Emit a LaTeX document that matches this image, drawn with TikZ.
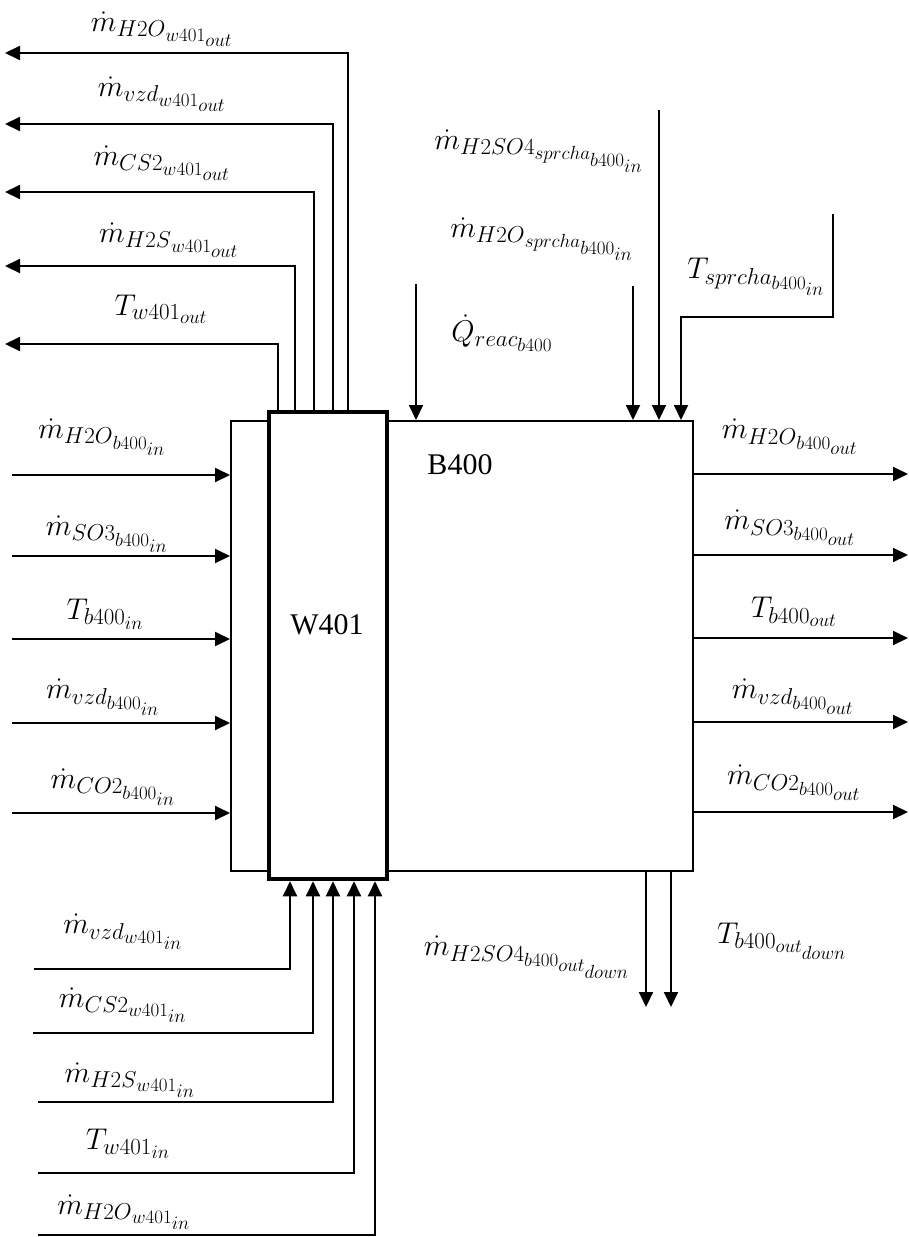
\RequirePackage{fix-cm}
\documentclass[tikz,border=0pt]{standalone}
\usepackage{fontspec}
\setmainfont{Liberation Serif}
\usepackage{tikz}
\usetikzlibrary{arrows.meta, positioning, calc}
\DeclareMathSizes{30}{30}{23}{19}
\tikzset{
  unit/.style={rectangle, draw, line width=2pt, inner sep=0pt},
  exch/.style={rectangle, draw, line width=4.5pt, fill=white, inner sep=0pt},
  tag/.style={inner sep=0pt, font=\fontsize{30}{36}\selectfont},
  var/.style={inner sep=1pt, font=\fontsize{30}{36}\selectfont},
  arr/.style={-{Triangle[length=15pt, width=14pt]}, line width=2pt},
}

\begin{document}
\begin{tikzpicture}[x=1pt, y=-1pt]
  \useasboundingbox (0,0) rectangle (909,1237);

  % reactor and exchanger
  \node[unit, minimum width=462pt, minimum height=450pt] (b400) at (462,646) {};
  \node[exch, minimum width=118pt, minimum height=467pt] (w401) at (328,645.5) {};
  \node[tag] (w401lab) at (327,625) {W401};
  \node[tag] (b400lab) at (460,465) {B400};

  % free ends
  \coordinate (li1) at (12,475);
  \coordinate (li2) at (12,556);
  \coordinate (li3) at (12,639);
  \coordinate (li4) at (12,723);
  \coordinate (li5) at (12,813);
  \coordinate (ro1) at (908,474);
  \coordinate (ro2) at (908,555);
  \coordinate (ro3) at (908,638);
  \coordinate (ro4) at (908,722);
  \coordinate (ro5) at (908,812);
  \coordinate (wo1) at (5,53);
  \coordinate (wo2) at (5,124);
  \coordinate (wo3) at (5,192);
  \coordinate (wo4) at (5,266);
  \coordinate (wo5) at (5,344);
  \coordinate (wi1) at (34,969);
  \coordinate (wi2) at (33,1033);
  \coordinate (wi3) at (38,1102);
  \coordinate (wi4) at (38,1173);
  \coordinate (wi5) at (38,1235);
  \coordinate (qin) at (416,284);
  \coordinate (si1) at (633,286);
  \coordinate (si2) at (659,110);
  \coordinate (si3) at (833,214);
  \coordinate (bo1) at (646,1007);
  \coordinate (bo2) at (671,1007);

  % B400 inlets, left side
  \draw[arr] (li1) -- (li1 -| b400.west);
  \draw[arr] (li2) -- (li2 -| b400.west);
  \draw[arr] (li3) -- (li3 -| b400.west);
  \draw[arr] (li4) -- (li4 -| b400.west);
  \draw[arr] (li5) -- (li5 -| b400.west);
  \node[var] (lil1) at (102,437) {$\dot m_{{H2O}_{b400_{in}}}$};
  \node[var] (lil2) at (107,534) {$\dot m_{{SO3}_{b400_{in}}}$};
  \node[var] (lil3) at (105,614) {$T_{b400_{in}}$};
  \node[var] (lil4) at (103,697) {$\dot m_{{vzd}_{b400_{in}}}$};
  \node[var] (lil5) at (113,787) {$\dot m_{{CO2}_{b400_{in}}}$};

  % B400 outlets, right side
  \draw[arr] (ro1 -| b400.east) -- (ro1);
  \draw[arr] (ro2 -| b400.east) -- (ro2);
  \draw[arr] (ro3 -| b400.east) -- (ro3);
  \draw[arr] (ro4 -| b400.east) -- (ro4);
  \draw[arr] (ro5 -| b400.east) -- (ro5);
  \node[var] (rol1) at (790,437) {$\dot m_{{H2O}_{b400_{out}}}$};
  \node[var] (rol2) at (790,528) {$\dot m_{{SO3}_{b400_{out}}}$};
  \node[var] (rol3) at (794,612) {$T_{b400_{out}}$};
  \node[var] (rol4) at (793,697) {$\dot m_{{vzd}_{b400_{out}}}$};
  \node[var] (rol5) at (794,783) {$\dot m_{{CO2}_{b400_{out}}}$};

  % W401 outlets, top
  \draw[arr] (w401.north -| 348,0) |- (wo1);
  \draw[arr] (w401.north -| 333,0) |- (wo2);
  \draw[arr] (w401.north -| 314,0) |- (wo3);
  \draw[arr] (w401.north -| 295,0) |- (wo4);
  \draw[arr] (w401.north -| 278,0) |- (wo5);
  \node[var] (wol1) at (162,29) {$\dot m_{{H2O}_{w401_{out}}}$};
  \node[var] (wol2) at (162,94) {$\dot m_{{vzd}_{w401_{out}}}$};
  \node[var] (wol3) at (162,163) {$\dot m_{{CS2}_{w401_{out}}}$};
  \node[var] (wol4) at (169,240) {$\dot m_{{H2S}_{w401_{out}}}$};
  \node[var] (wol5) at (161,309) {$T_{w401_{out}}$};

  % W401 inlets, bottom
  \draw[arr] (wi1) -| (w401.south -| 290,0);
  \draw[arr] (wi2) -| (w401.south -| 313,0);
  \draw[arr] (wi3) -| (w401.south -| 333,0);
  \draw[arr] (wi4) -| (w401.south -| 354,0);
  \draw[arr] (wi5) -| (w401.south -| 375,0);
  \node[var] (wil1) at (123,932) {$\dot m_{{vzd}_{w401_{in}}}$};
  \node[var] (wil2) at (123,1005) {$\dot m_{{CS2}_{w401_{in}}}$};
  \node[var] (wil3) at (130,1080) {$\dot m_{{H2S}_{w401_{in}}}$};
  \node[var] (wil4) at (128,1144) {$T_{w401_{in}}$};
  \node[var] (wil5) at (124,1212) {$\dot m_{{H2O}_{w401_{in}}}$};

  % B400 top feeds
  \draw[arr] (qin) -- (qin |- b400.north);
  \draw[arr] (si1) -- (si1 |- b400.north);
  \draw[arr] (si2) -- (si2 |- b400.north);
  \draw[arr] (si3) |- (681,317) -- (b400.north -| 681,0);
  \node[var] (qinl) at (502,333) {$\dot Q_{reac_{b400}}$};
  \node[var] (sil1) at (542,239) {$\dot m_{{H2O}_{sprcha_{b400_{in}}}}$};
  \node[var] (sil2) at (539,151) {$\dot m_{{H2SO4}_{sprcha_{b400_{in}}}}$};
  \node[var] (sil3) at (756,277) {$T_{sprcha_{b400_{in}}}$};

  % B400 bottom drains
  \draw[arr] (b400.south -| bo1) -- (bo1);
  \draw[arr] (b400.south -| bo2) -- (bo2);
  \node[var] (bol1) at (527,957) {$\dot m_{{H2SO4}_{b400_{out_{down}}}}$};
  \node[var] (bol2) at (782,941) {$T_{b400_{out_{down}}}$};
\end{tikzpicture}
\end{document}
